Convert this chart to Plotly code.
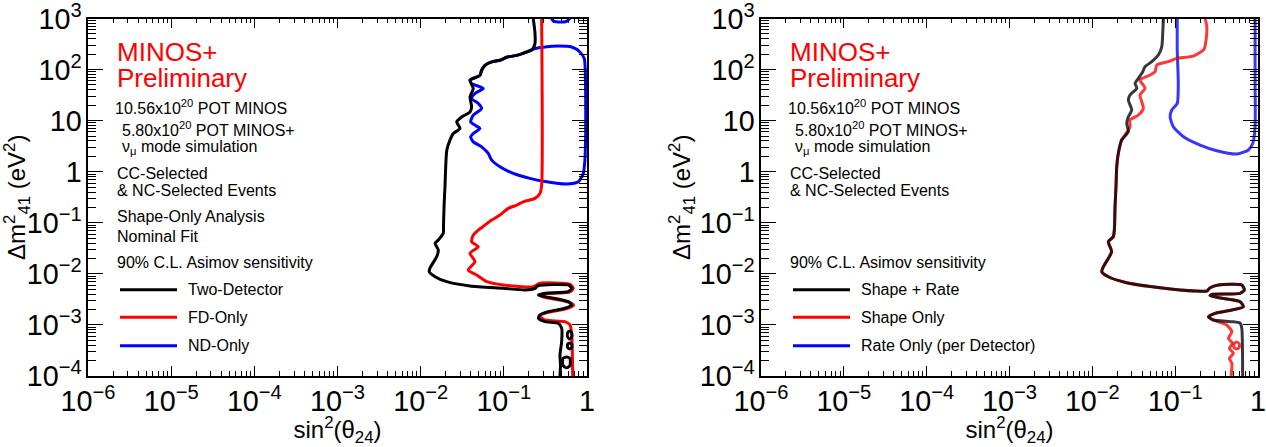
import plotly.graph_objects as go

# ---------------- Left panel: Two-Detector / FD-Only / ND-Only ----------------
two_det_s = [0.226, 0.237, 0.237, 0.216, 0.170, 0.143, 0.108, 0.0898, 0.0715, 0.0593,
             0.0541, 0.0516, 0.0392, 0.0429, 0.0392, 0.041, 0.0392, 0.0311, 0.0271, 0.0297,
             0.0247, 0.0225, 0.0206, 0.0200, 0.0196, 0.0191, 0.0188, 0.0187, 0.0163, 0.0149,
             0.0163, 0.0156, 0.0129, 0.0127, 0.0149, 0.0206, 0.0392, 0.0985, 0.180, 0.237,
             0.260, 0.596, 0.655, 0.596, 0.313, 0.260, 0.313, 0.596, 0.655, 0.543,
             0.342, 0.272, 0.260, 0.313, 0.451, 0.496, 0.496, 0.473, 0.480, 0.473]
two_det_dm = [1000, 513, 327, 239, 208, 190, 174, 152, 141, 121,
              97, 77, 62, 42.5, 29.2, 18.6, 14.8, 11.8, 9.46, 7.03,
              5.61, 4.15, 2.64, 1.25, 0.507, 0.206, 0.0837, 0.0622, 0.046, 0.0396,
              0.0293, 0.0217, 0.0129, 0.011, 0.00881, 0.00703, 0.00579, 0.00522, 0.00484, 0.00522,
              0.00587, 0.00606, 0.00522, 0.00448, 0.00417, 0.00386, 0.00358, 0.00286, 0.00246, 0.00212,
              0.00182, 0.00157, 0.00135, 0.00116, 0.00108, 8.63e-4, 4.72e-4, 2.59e-4, 1.65e-4, 1e-4]

# small closed islands of the Two-Detector contour at low mass splitting
two_det_isl1_s = [0.62, 0.655, 0.655, 0.62, 0.585, 0.585, 0.62]
two_det_isl1_dm = [7.6e-4, 7.0e-4, 5.8e-4, 5.3e-4, 5.8e-4, 7.0e-4, 7.6e-4]
two_det_isl2_s = [0.62, 0.655, 0.655, 0.62, 0.585, 0.585, 0.62]
two_det_isl2_dm = [4.45e-4, 4.2e-4, 3.6e-4, 3.4e-4, 3.6e-4, 4.2e-4, 4.45e-4]
two_det_isl3_s = [0.57, 0.624, 0.624, 0.57, 0.514, 0.514, 0.57]
two_det_isl3_dm = [2.37e-4, 2.2e-4, 1.6e-4, 1.45e-4, 1.6e-4, 2.2e-4, 2.37e-4]

fd_only_s = [0.285, 0.285, 0.272, 0.237, 0.171, 0.143, 0.113, 0.0898, 0.0715, 0.0593,
             0.0493, 0.0429, 0.041, 0.0493, 0.0392, 0.045, 0.0373, 0.0471, 0.0622, 0.0985,
             0.226, 0.272, 0.624, 0.684, 0.624, 0.313, 0.272, 0.32, 0.624, 0.69,
             0.56, 0.34, 0.268, 0.313, 0.543, 0.624, 0.655, 0.673]
fd_only_dm = [1000, 0.547, 0.376, 0.301, 0.258, 0.222, 0.192, 0.142, 0.113, 0.0903,
              0.0721, 0.0576, 0.0426, 0.034, 0.0253, 0.0173, 0.0119, 0.0095, 0.00703, 0.00606,
              0.00561, 0.00655, 0.00625, 0.00522, 0.00442, 0.00404, 0.0037, 0.00345, 0.00275, 0.00241,
              0.00206, 0.00176, 0.0015, 0.00125, 0.00116, 0.001, 6.38e-4, 1e-4]

nd_only_top_s = [0.376, 0.393, 0.451, 0.569, 0.624]
nd_only_top_dm = [1000, 893, 853, 881, 1000]

nd_only_s = [0.170, 0.237, 0.313, 0.451, 0.655, 0.822, 0.927, 0.953, 0.964, 0.964,
             0.944, 0.902, 0.785, 0.569, 0.327, 0.206, 0.130, 0.0898, 0.0715, 0.065,
             0.0541, 0.0429, 0.0399, 0.0429, 0.0516, 0.045, 0.0399, 0.0429, 0.0541, 0.0493,
             0.041, 0.045, 0.0566, 0.0493, 0.041, 0.0392, 0.0516, 0.0541, 0.0593, 0.0715,
             0.0898, 0.108, 0.143, 0.170]
nd_only_dm = [208, 258, 277, 290, 277, 221, 164, 97, 25.1, 5.69,
              1.69, 0.927, 0.634, 0.573, 0.634, 0.740, 0.927, 1.25, 1.69, 2.28,
              3.07, 3.84, 4.81, 5.61, 7.03, 8.15, 9.46, 12.8, 17.3, 21.7,
              27.1, 34.0, 42.5, 47.2, 53.3, 62, 77, 97, 121, 141,
              152, 174, 190, 208]

# ---------------- Right panel: Shape + Rate / Shape Only / Rate Only ----------------
shape_rate_upper_s = [0.0721, 0.0708, 0.0689, 0.0627, 0.0521, 0.0433, 0.0406, 0.036, 0.0328, 0.0344,
                      0.0285, 0.0272, 0.0299, 0.0272, 0.026, 0.0272]
shape_rate_upper_dm = [1000, 520, 280, 193, 143, 114, 90.8, 67.4, 53.8, 43.0,
                       31.8, 25.3, 16.2, 11.9, 8.87, 6.07]

# section common to Shape + Rate and Shape Only
common_s = [0.0226, 0.0206, 0.0197, 0.0193, 0.0188, 0.0185, 0.0179, 0.0156, 0.0171, 0.0136,
            0.013, 0.0156, 0.026, 0.0658, 0.174, 0.241, 0.264, 0.333, 0.637, 0.685,
            0.608, 0.277, 0.264, 0.366, 0.608, 0.667, 0.483, 0.303, 0.252, 0.289]
common_dm = [4.18, 2.29, 1.25, 0.508, 0.206, 0.079, 0.0534, 0.0426, 0.0271, 0.0138,
             0.011, 0.00879, 0.00671, 0.00535, 0.00461, 0.00461, 0.00535, 0.00605, 0.00605, 0.00483,
             0.00416, 0.00398, 0.00373, 0.00332, 0.00285, 0.00227, 0.00196, 0.00169, 0.00145, 0.00125]

shape_rate_tail_s = [0.483, 0.608, 0.637, 0.652]
shape_rate_tail_dm = [1.16e-3, 1.08e-3, 8.59e-4, 1e-4]

shape_only_upper_s = [0.230, 0.241, 0.236, 0.223, 0.166, 0.104, 0.0828, 0.060, 0.0572, 0.0498,
                      0.0377, 0.0433, 0.0377, 0.0413, 0.036, 0.0285, 0.0285, 0.0248]
shape_only_upper_dm = [1000, 690, 379, 249, 184, 166, 143, 123, 90.8, 78.2,
                       62.5, 43.0, 31.8, 17.4, 12.9, 10.3, 7.6, 5.23]

shape_only_tail_s = [0.42, 0.483, 0.44, 0.491, 0.452, 0.505, 0.452, 0.483, 0.474]
shape_only_tail_dm = [9.96e-4, 7.36e-4, 5.47e-4, 4.36e-4, 3.48e-4, 2.78e-4, 2.22e-4, 1.77e-4, 1e-4]

shape_only_isl_s = [0.553, 0.592, 0.592, 0.553, 0.514, 0.514, 0.553]
shape_only_isl_dm = [4.63e-4, 4.3e-4, 3.6e-4, 3.38e-4, 3.6e-4, 4.3e-4, 4.63e-4]

rate_only_s = [0.106, 0.106, 0.109, 0.106, 0.091, 0.0868, 0.095, 0.126, 0.20, 0.318,
               0.555, 0.766, 0.865, 0.922, 0.922, 0.922]
rate_only_dm = [1000, 242, 53.8, 21.8, 16.2, 11.9, 7.6, 4.84, 3.33, 2.58,
                2.22, 2.66, 3.6, 7.6, 53.8, 1000]

FONT = "Liberation Sans, Arial, Helvetica, sans-serif"
W, H = 1266, 447
LW = 3

fig = go.Figure()


def add_line(xs, ys, color, axis, opacity=1.0):
    fig.add_trace(go.Scatter(
        x=xs, y=ys, mode="lines", showlegend=False, hoverinfo="skip",
        line=dict(color=color, width=LW, shape="spline", smoothing=0.6),
        opacity=opacity,
        xaxis="x" if axis == 1 else "x2", yaxis="y" if axis == 1 else "y2"))


# left panel (drawn blue, red, then black on top)
add_line(nd_only_top_s, nd_only_top_dm, "#0000ff", 1)
add_line(nd_only_s, nd_only_dm, "#0000ff", 1)
add_line(fd_only_s, fd_only_dm, "#ff0000", 1)
add_line(two_det_s, two_det_dm, "#000000", 1)
for xs, ys in [(two_det_isl1_s, two_det_isl1_dm), (two_det_isl2_s, two_det_isl2_dm),
               (two_det_isl3_s, two_det_isl3_dm)]:
    add_line(xs, ys, "#000000", 1)

# right panel, semi-transparent lines
OP = 0.78
add_line(rate_only_s, rate_only_dm, "#0000ff", 2, OP)
add_line(shape_only_upper_s + common_s + shape_only_tail_s,
         shape_only_upper_dm + common_dm + shape_only_tail_dm, "#ff0000", 2, OP)
add_line(shape_only_isl_s, shape_only_isl_dm, "#ff0000", 2, OP)
add_line(shape_rate_upper_s + common_s + shape_rate_tail_s,
         shape_rate_upper_dm + common_dm + shape_rate_tail_dm, "#000000", 2, OP)

# axes
def xaxis(domain, anchor):
    return dict(domain=domain, anchor=anchor, type="log", range=[-6.00001, 0.00001],
                automargin=False, ticklabeloverflow="allow",
                dtick=1, exponentformat="power", ticks="inside", ticklen=10,
                tickwidth=1, tickcolor="black", mirror="allticks", showline=True,
                linecolor="black", linewidth=1.5, showgrid=False, zeroline=False,
                tickfont=dict(family=FONT, size=23, color="black"),
                minor=dict(ticks="inside", ticklen=5, dtick="D1", tickcolor="black",
                           tickwidth=1, showgrid=False),
                title=dict(text="sin<sup>2</sup>(θ<sub>24</sub>)",
                           font=dict(family=FONT, size=24, color="black"), standoff=6))


def yaxis(anchor):
    return dict(domain=[0.1588, 0.9586], anchor=anchor, type="log",
                range=[-4.00001, 3.00001], tick0=0,
                automargin=False, ticklabeloverflow="allow",
                dtick=1, exponentformat="power", ticks="inside", ticklen=15,
                tickwidth=1, tickcolor="black", mirror="allticks", showline=True,
                linecolor="black", linewidth=1.5, showgrid=False, zeroline=False,
                tickfont=dict(family=FONT, size=23, color="black"),
                minor=dict(ticks="inside", ticklen=8, dtick="D1", tickcolor="black",
                           tickwidth=1, showgrid=False),
                title=dict(text="Δm<sup>2</sup><sub>41</sub> (eV<sup>2</sup>)",
                           font=dict(family=FONT, size=24, color="black"), standoff=2))


annotations = []
shapes = []


def text(px, py, s, size=16, color="black"):
    annotations.append(dict(x=px / W, y=1 - py / H, xref="paper", yref="paper",
                            text=s, showarrow=False, xanchor="left", yanchor="middle",
                            font=dict(family=FONT, size=size, color=color)))


def panel_text(x0, extra_lines, legend):
    text(x0 + 27, 52, "MINOS+", 26, "#ff0000")
    text(x0 + 27, 78, "Preliminary", 26, "#ff0000")
    text(x0 + 25, 107, "10.56x10<sup>20</sup> POT MINOS")
    text(x0 + 32, 129, "5.80x10<sup>20</sup> POT MINOS+")
    text(x0 + 32, 147, "ν<sub>μ</sub> mode simulation")
    text(x0 + 27, 173, "CC-Selected")
    text(x0 + 27, 190, "& NC-Selected Events")
    for yy, s in extra_lines:
        text(x0 + 27, yy, s)
    text(x0 + 27, 262, "90% C.L. Asimov sensitivity")
    for (yy, label, color) in legend:
        shapes.append(dict(type="line", xref="paper", yref="paper",
                           x0=(x0 + 32) / W, x1=(x0 + 89) / W,
                           y0=1 - yy / H, y1=1 - yy / H,
                           line=dict(color=color, width=3)))
        text(x0 + 98, yy, label)


panel_text(88, [(216, "Shape-Only Analysis"), (236, "Nominal Fit")],
           [(289.7, "Two-Detector", "#000000"), (317.3, "FD-Only", "#ff0000"),
            (345.7, "ND-Only", "#0000ff")])
panel_text(761, [],
           [(289.7, "Shape + Rate", "#000000"), (317.3, "Shape Only", "#ff0000"),
            (345.7, "Rate Only (per Detector)", "#0000ff")])

fig.update_layout(
    width=W, height=H, margin=dict(l=0, r=0, t=0, b=0),
    paper_bgcolor="white", plot_bgcolor="white",
    font=dict(family=FONT, color="black"),
    xaxis=xaxis([88 / W, 587 / W], "y"),
    yaxis=yaxis("x"),
    xaxis2=xaxis([761 / W, 1258 / W], "y2"),
    yaxis2=yaxis("x2"),
    annotations=annotations, shapes=shapes,
    showlegend=False,
)

fig.write_html("out.html")
